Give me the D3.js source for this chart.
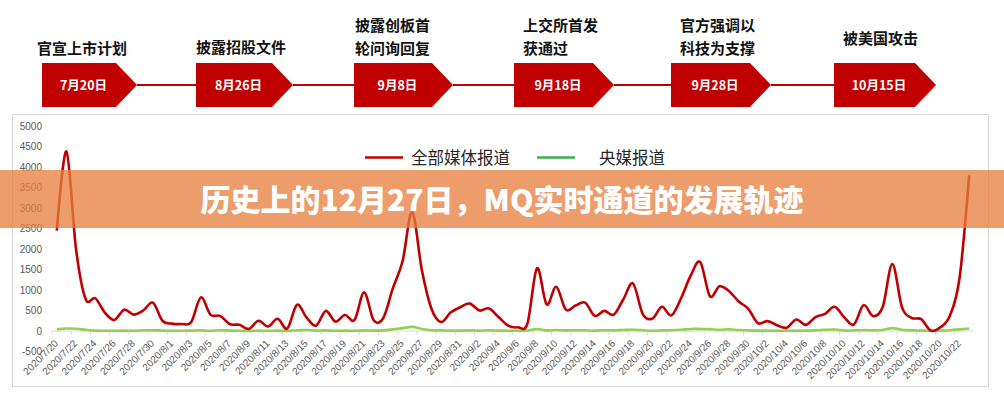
<!DOCTYPE html>
<html><head><meta charset="utf-8">
<script src="https://cdn.jsdelivr.net/npm/d3@7/dist/d3.min.js"></script>
<style>
html,body{margin:0;padding:0;background:#fff;}
svg{display:block;}
</style></head>
<body>
<script>
// ---- data ----
const categories = [
"2020/7/20","2020/7/21","2020/7/22","2020/7/23","2020/7/24","2020/7/25","2020/7/26","2020/7/27","2020/7/28","2020/7/29","2020/7/30","2020/7/31",
"2020/8/1","2020/8/2","2020/8/3","2020/8/4","2020/8/5","2020/8/6","2020/8/7","2020/8/8","2020/8/9","2020/8/10","2020/8/11","2020/8/12","2020/8/13","2020/8/14","2020/8/15","2020/8/16","2020/8/17","2020/8/18","2020/8/19","2020/8/20","2020/8/21","2020/8/22","2020/8/23","2020/8/24","2020/8/25","2020/8/26","2020/8/27","2020/8/28","2020/8/29","2020/8/30","2020/8/31",
"2020/9/1","2020/9/2","2020/9/3","2020/9/4","2020/9/5","2020/9/6","2020/9/7","2020/9/8","2020/9/9","2020/9/10","2020/9/11","2020/9/12","2020/9/13","2020/9/14","2020/9/15","2020/9/16","2020/9/17","2020/9/18","2020/9/19","2020/9/20","2020/9/21","2020/9/22","2020/9/23","2020/9/24","2020/9/25","2020/9/26","2020/9/27","2020/9/28","2020/9/29","2020/9/30",
"2020/10/1","2020/10/2","2020/10/3","2020/10/4","2020/10/5","2020/10/6","2020/10/7","2020/10/8","2020/10/9","2020/10/10","2020/10/11","2020/10/12","2020/10/13","2020/10/14","2020/10/15","2020/10/16","2020/10/17","2020/10/18","2020/10/19","2020/10/20","2020/10/21","2020/10/22","2020/10/23"];

const allMedia = [
2450,4380,2000,780,800,450,270,520,400,500,690,250,
180,170,220,820,400,370,170,150,50,250,110,300,60,640,330,130,490,230,390,270,940,260,320,1050,1700,2900,1500,550,220,450,580,
670,500,550,340,130,90,180,1530,650,1080,520,620,690,370,490,400,780,1160,420,300,590,380,800,1350,1680,850,1090,970,720,540,
190,240,140,80,280,150,340,420,590,330,160,630,360,590,1630,580,320,290,10,90,380,1300,3800];

const centralMedia = [
40,60,55,30,10,5,5,10,5,15,20,10,
5,5,10,15,5,20,10,5,0,10,5,10,0,20,25,10,15,5,10,5,15,10,15,40,70,100,50,20,15,10,10,
15,10,15,10,5,5,10,50,15,25,15,20,15,10,20,15,25,30,20,5,15,20,30,50,50,45,30,40,25,15,
10,10,5,5,10,10,15,30,35,10,15,20,20,25,70,30,15,10,5,10,20,40,60];

const seriesNames = ["全部媒体报道","央媒报道"];
const yTicks = [-500,0,500,1000,1500,2000,2500,3000,3500,4000,4500,5000];

const eventTitles = [["官宣上市计划"],["披露招股文件"],["披露创板首","轮问询回复"],["上交所首发","获通过"],["官方强调以","科技为支撑"],["被美国攻击"]];
const eventDates = ["7月20日","8月26日","9月8日","9月18日","9月28日","10月15日"];
const mainTitle = "历史上的12月27日，MQ实时通道的发展轨迹";

// ---- layout ----
const W = 1004, H = 400;
const RED = "#C00000", GREEN = "#92D050";
const svg = d3.select("body").append("svg").attr("width", W).attr("height", H);

// timeline
const boxLeft = [42, 196, 354, 514, 671, 834];
const boxRight = [137, 293, 453, 614, 771, 936];
const boxTop = 63, boxBot = 107, tip = 21;
const titleX = [37, 196, 355, 523, 680, 843];
const titleY = [[54],[53],[31,54],[31,54],[31,54],[44]];
const tl = svg.append("g");
for (let i = 0; i < boxLeft.length - 1; i++) {
  tl.append("line").attr("x1", boxRight[i]).attr("x2", boxLeft[i+1])
    .attr("y1", 85).attr("y2", 85).attr("stroke", RED).attr("stroke-width", 1.8);
}
eventDates.forEach((d, i) => {
  const l = boxLeft[i], r = boxRight[i], m = (boxTop + boxBot) / 2;
  tl.append("path").attr("d", `M${l},${boxTop}L${r-tip},${boxTop}L${r},${m}L${r-tip},${boxBot}L${l},${boxBot}Z`)
    .attr("fill", RED);
  tl.append("text").attr("x", l + (r - l) / 2 - 6).attr("y", m).attr("dy", "0.36em")
    .attr("text-anchor", "middle").attr("fill", "#fff")
    .style("font", "bold 12.5px 'Noto Sans CJK SC', sans-serif").text(d);
  eventTitles[i].forEach((t, j) => {
    tl.append("text").attr("x", titleX[i]).attr("y", titleY[i][j])
      .attr("fill", "#111").style("font", "bold 15px 'Noto Sans CJK SC', sans-serif").text(t);
  });
});

// chart frame
svg.append("rect").attr("x", 12.5).attr("y", 114.5).attr("width", 976).attr("height", 272)
  .attr("fill", "#fff").attr("stroke", "#D9D9D9").attr("stroke-width", 1);

const x = d3.scalePoint().domain(categories).range([52, 974]).padding(0.5);
const y = d3.scaleLinear().domain([-500, 5000]).range([351.5, 126]);
const step = x.step();

// y labels
svg.append("g").selectAll("text").data(yTicks).join("text")
  .attr("x", 42).attr("y", d => y(d)).attr("dy", "0.35em").attr("text-anchor", "end")
  .attr("fill", "#595959").style("font", "10px 'Liberation Sans', Arial, sans-serif")
  .text(d => d);

// x axis line at 0
svg.append("line").attr("x1", 52).attr("x2", 974).attr("y1", y(0)).attr("y2", y(0))
  .attr("stroke", "#D9D9D9").attr("stroke-width", 1);
const tickCats = categories.filter((d, i) => i % 2 === 0);
svg.append("g").selectAll("line").data(tickCats).join("line")
  .attr("x1", d => x(d) - step / 2).attr("x2", d => x(d) - step / 2)
  .attr("y1", y(0)).attr("y2", y(0) + 4).attr("stroke", "#D9D9D9");
svg.append("g").selectAll("text").data(tickCats).join("text")
  .attr("transform", d => `translate(${x(d) + 2},${y(0) + 13}) rotate(-45)`)
  .attr("text-anchor", "end").attr("fill", "#595959")
  .style("font", "10px 'Liberation Sans', Arial, sans-serif").text(d => d);

// lines
const line = d3.line().x((d, i) => x(categories[i])).y(d => y(d)).curve(d3.curveCardinal.tension(0));
svg.append("path").datum(centralMedia).attr("d", line).attr("fill", "none")
  .attr("stroke", GREEN).attr("stroke-width", 2.6);
svg.append("path").datum(allMedia).attr("d", line).attr("fill", "none")
  .attr("stroke", RED).attr("stroke-width", 2.6).attr("stroke-linejoin", "round");

// legend
const lg = svg.append("g");
const legendItems = [
  {name: seriesNames[0], color: RED, x1: 365, x2: 403, tx: 411},
  {name: seriesNames[1], color: "#3DAE55", x1: 537, x2: 575, tx: 599}
];
legendItems.forEach(it => {
  lg.append("line").attr("x1", it.x1).attr("x2", it.x2).attr("y1", 157.5).attr("y2", 157.5)
    .attr("stroke", it.color).attr("stroke-width", 2.6);
  lg.append("text").attr("x", it.tx).attr("y", 158).attr("dy", "0.36em").attr("fill", "#262626")
    .style("font", "16.5px 'Noto Sans CJK SC', sans-serif").text(it.name);
});

// overlay banner
svg.append("rect").attr("x", 0).attr("y", 170).attr("width", W).attr("height", 58)
  .attr("fill", "#E67E3C").attr("fill-opacity", 0.76);
svg.append("text").attr("x", 502).attr("y", 200).attr("dy", "0.36em").attr("text-anchor", "middle")
  .attr("fill", "#fff").style("font", "900 30px 'Noto Sans CJK SC', sans-serif").text(mainTitle);
</script>
</body></html>
